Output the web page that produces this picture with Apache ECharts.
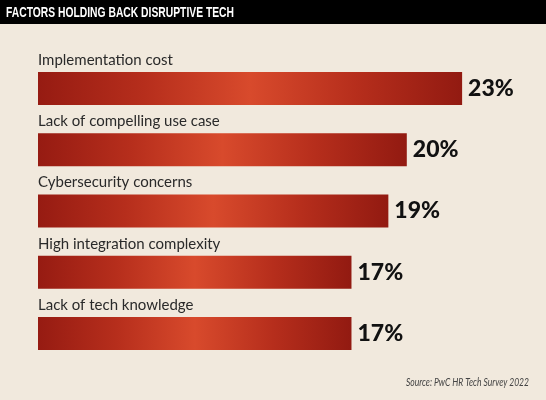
<!DOCTYPE html>
<html>
<head>
<meta charset="utf-8">
<script src="https://cdn.jsdelivr.net/npm/echarts@6/dist/echarts.min.js"></script>
<style>
  html, body { margin: 0; padding: 0; background: #f1e9dd; }
  #chart { width: 546px; height: 400px; }
</style>
</head>
<body>
<div id="chart"></div>
<script>
var categories = [
  'Implementation cost',
  'Lack of compelling use case',
  'Cybersecurity concerns',
  'High integration complexity',
  'Lack of tech knowledge'
];
var values = [23, 20, 19, 17, 17];
var titleText = 'FACTORS HOLDING BACK DISRUPTIVE TECH';
var sourceText = 'Source: PwC HR Tech Survey 2022';

(function() {
  var chart = echarts.init(document.getElementById('chart'), null, { renderer: 'canvas' });

  // squeeze title and source into the condensed widths of the original
  var ctx = document.createElement('canvas').getContext('2d');
  var titleFont = 'bold 15px "Liberation Sans", sans-serif';
  ctx.font = titleFont;
  var titleScale = 228 / ctx.measureText(titleText).width;
  var sourceFont = 'italic 10.5px Lato, sans-serif';
  ctx.font = sourceFont;
  var sourceScale = Math.min(1, 123 / ctx.measureText(sourceText).width);

  var barFill = new echarts.graphic.LinearGradient(0, 0, 1, 0, [
    { offset: 0, color: '#961b12' },
    { offset: 0.25, color: '#b62e1c' },
    { offset: 0.5, color: '#d84a2c' },
    { offset: 0.75, color: '#b62e1c' },
    { offset: 1, color: '#921a11' }
  ]);

  chart.setOption({
    animation: false,
    backgroundColor: '#f1e9dd',
    graphic: [
      { type: 'rect', left: 0, top: 0, shape: { width: 546, height: 24 }, style: { fill: '#000' } },
      {
        type: 'text', x: 6, y: 13, scaleX: titleScale,
        style: {
          text: titleText, fill: '#fff', font: titleFont,
          verticalAlign: 'middle'
        }
      },
      {
        type: 'text', x: 529, y: 383, scaleX: sourceScale,
        style: {
          text: sourceText, fill: '#444', font: sourceFont,
          align: 'right', verticalAlign: 'middle'
        }
      }
    ],
    grid: { left: 38, right: 47, top: 58, bottom: 36 },
    xAxis: { type: 'value', min: 0, max: 25, show: false },
    yAxis: {
      type: 'category',
      data: categories,
      inverse: true,
      show: false
    },
    series: [
      {
        type: 'bar',
        data: values,
        barWidth: 33,
        itemStyle: { color: barFill },
        label: {
          show: true,
          position: 'right',
          distance: 6,
          formatter: '{c}%',
          color: '#111',
          fontFamily: 'Lato',
          fontWeight: 900,
          fontSize: 23
        }
      },
      {
        type: 'bar',
        data: values,
        barWidth: 33,
        barGap: '-100%',
        silent: true,
        itemStyle: { color: 'transparent' },
        label: {
          show: true,
          position: [0, -12],
          verticalAlign: 'middle',
          align: 'left',
          formatter: function(p) { return p.name; },
          color: '#2a2a2a',
          fontFamily: 'Lato',
          fontSize: 15
        }
      }
    ]
  });

  window.addEventListener('resize', function() { chart.resize(); });
})();
</script>
</body>
</html>
